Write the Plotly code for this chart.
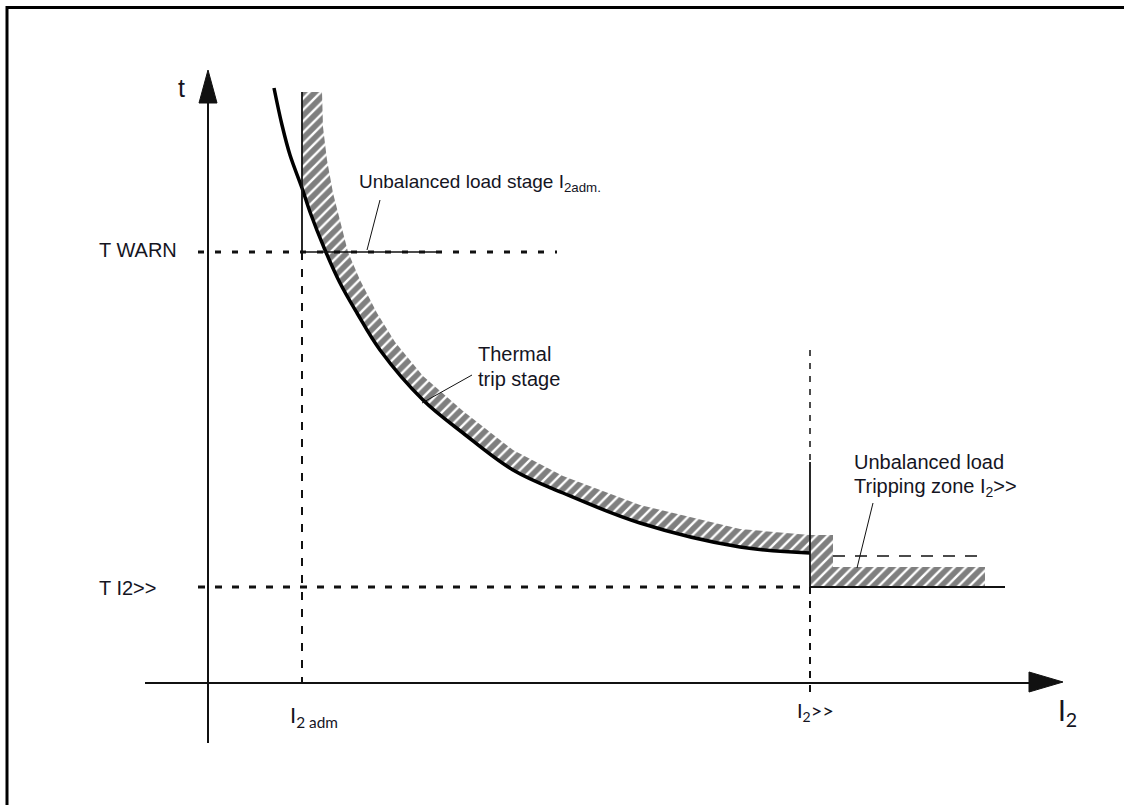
import plotly.graph_objects as go

# ---- data (relative units: I2 on x, time t on y) ----
# thermal trip characteristic (thick curve = lower edge of the tolerance band)
curve_i2 = [0.66, 0.74, 0.82, 0.94, 1.02, 1.17, 1.32, 1.49, 1.72, 2.15, 2.55, 3.05, 3.55, 4.32, 5.32, 6.02]
curve_t = [5.95, 5.58, 5.28, 4.95, 4.71, 4.33, 4.00, 3.70, 3.33, 2.83, 2.50, 2.13, 1.90, 1.60, 1.36, 1.30]

# upper edge of the hatched tolerance band of the thermal stage
band_i2 = [0.94, 1.14, 1.15, 1.19, 1.25, 1.34, 1.40, 1.52, 1.69, 1.87, 2.15, 2.55, 3.05, 3.55, 4.32, 5.32, 6.02]
band_t = [5.91, 5.91, 5.56, 5.23, 4.90, 4.56, 4.31, 4.03, 3.70, 3.41, 3.07, 2.72, 2.33, 2.07, 1.78, 1.54, 1.48]

# outline of the I2>> tripping zone
zone_i2 = [6.25, 6.25, 7.77, 7.77, 6.02]
zone_t = [1.48, 1.16, 1.16, 0.96, 0.96]
zone_dash_t = 1.27
zone_dash_end = 7.74

# setting values
I2_ADM = 0.94
I2_HIGH = 6.02
T_WARN = 4.31
T_I2HIGH = 0.96

tick_labels = {"i2adm": "I<sub>2 adm</sub>", "i2high": "I<sub>2</sub>&gt;&gt;"}

# ---- build hatched polygon ----
lower_i2 = [x for x in curve_i2 if x >= I2_ADM]
lower_t = curve_t[len(curve_i2) - len(lower_i2):]
poly_x = band_i2 + zone_i2 + lower_i2[::-1]
poly_y = band_t + zone_t + lower_t[::-1]

fig = go.Figure()
fig.add_trace(go.Scatter(
    x=poly_x, y=poly_y, mode="lines", fill="toself",
    line=dict(width=0, color="rgba(0,0,0,0)"),
    fillcolor="white",
    fillpattern=dict(shape="/", size=8, solidity=0.7, fgcolor="black", bgcolor="white"),
    hoverinfo="skip"))
fig.add_trace(go.Scatter(
    x=curve_i2, y=curve_t, mode="lines",
    line=dict(color="black", width=3.5, shape="spline", smoothing=1.0),
    hoverinfo="skip"))

BLACK = "#111111"


def seg(x0, y0, x1, y1, width=2, dash="solid", color=BLACK):
    fig.add_shape(type="line", x0=x0, y0=y0, x1=x1, y1=y1, xref="x", yref="y",
                  line=dict(color=color, width=width, dash=dash))


# axes
seg(0, -0.60, 0, 5.84, width=2)
seg(-0.63, 0, 8.22, 0, width=2)
fig.add_shape(type="path", path="M -0.09 5.80 L 0.09 5.80 L 0 6.13 Z",
              fillcolor=BLACK, line=dict(color=BLACK, width=1))
fig.add_shape(type="path", path="M 8.21 0.11 L 8.21 -0.09 L 8.55 0.01 Z",
              fillcolor=BLACK, line=dict(color=BLACK, width=1))

# T WARN level
seg(-0.10, T_WARN, 3.49, T_WARN, width=3, dash="6px,11px")
seg(I2_ADM, T_WARN, 2.29, T_WARN, width=1.5)
# I2 adm
seg(I2_ADM, 5.91, I2_ADM, T_WARN, width=1.8)
seg(I2_ADM, T_WARN, I2_ADM, 0, width=2, dash="8px,9px")
# T I2>> level
seg(-0.10, T_I2HIGH, I2_HIGH, T_I2HIGH, width=3, dash="7px,10px")
seg(I2_HIGH, T_I2HIGH, 7.97, T_I2HIGH, width=1.8)
# I2>>
seg(I2_HIGH, 3.33, I2_HIGH, 2.21, width=1.5, dash="6px,7px")
seg(I2_HIGH, 2.21, I2_HIGH, T_I2HIGH, width=1.8)
seg(I2_HIGH, T_I2HIGH, I2_HIGH, -0.14, width=2, dash="7px,7px")
# dashed limit inside tripping zone
seg(zone_i2[0], zone_dash_t, zone_dash_end, zone_dash_t, width=1.5, dash="12px,10px")

# leader lines
seg(1.72, 4.83, 1.59, 4.33, width=1)
seg(2.64, 3.08, 2.14, 2.80, width=1)
seg(6.65, 1.80, 6.49, 1.15, width=1)

# frame (left and top edges only; the rest lies outside the picture)
fig.add_shape(type="path", xref="paper", yref="paper",
              path=f"M {7/1124} -0.05 L {7/1124} {1 - 7.5/805} L 1.05 {1 - 7.5/805}",
              line=dict(color="black", width=3))

TXT = "#15151f"
ARIAL = "Liberation Sans, Arial, sans-serif"
HUM = "Lato, Open Sans, sans-serif"


def label(x, y, text, size=20, family=ARIAL, xanchor="left", yanchor="middle"):
    fig.add_annotation(x=x, y=y, xref="x", yref="y", text=text, showarrow=False,
                       xanchor=xanchor, yanchor=yanchor,
                       font=dict(family=family, size=size, color=TXT))


label(-0.27, 5.95, "t", size=25, xanchor="center")
label(-1.11, 4.33, "T WARN")
label(-1.11, 0.95, "T I2&gt;&gt;")
label(1.49, 5.00, "Unbalanced load stage I<sub>2adm.</sub>", size=19)
label(2.68, 3.29, "Thermal")
label(2.68, 3.04, "trip stage")
label(6.44, 2.21, "Unbalanced load")
label(6.44, 1.96, "Tripping zone I<sub>2</sub>&gt;&gt;")
label(0.80, -0.33, tick_labels["i2adm"], size=22, family=HUM)
label(5.87, -0.28, tick_labels["i2high"], size=20, family=HUM)
label(8.48, -0.29, "I<sub>2</sub>", size=28, family=HUM)

fig.update_layout(
    width=1124, height=805, autosize=False,
    margin=dict(l=0, r=0, t=0, b=0),
    paper_bgcolor="white", plot_bgcolor="white",
    showlegend=False,
    xaxis=dict(range=[-2.08, 9.16], visible=False, fixedrange=True),
    yaxis=dict(range=[-1.22, 6.83], visible=False, fixedrange=True),
)

fig.write_html("out.html", config={"displayModeBar": False},
               post_script="document.body.style.margin='0';document.body.style.overflow='hidden';"
                           "document.documentElement.style.overflow='hidden';")
